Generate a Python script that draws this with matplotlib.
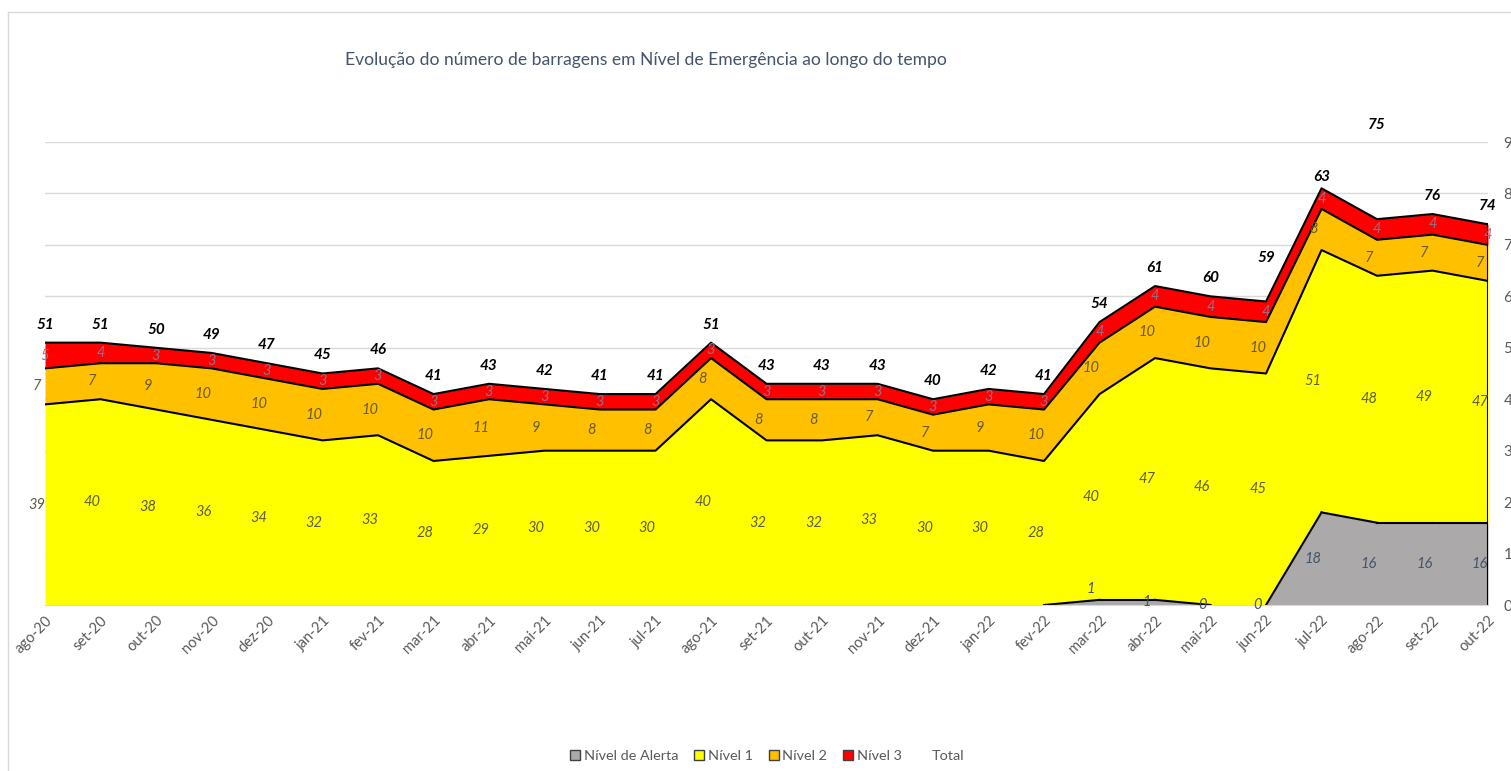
import matplotlib.pyplot as plt
import numpy as np
from matplotlib.lines import Line2D
from matplotlib.patches import Patch

# dados
meses = ["ago-20", "set-20", "out-20", "nov-20", "dez-20", "jan-21", "fev-21",
         "mar-21", "abr-21", "mai-21", "jun-21", "jul-21", "ago-21", "set-21",
         "out-21", "nov-21", "dez-21", "jan-22", "fev-22", "mar-22", "abr-22",
         "mai-22", "jun-22", "jul-22", "ago-22", "set-22", "out-22"]
alerta = [None] * 18 + [0, 1, 1, 0, 0, 18, 16, 16, 16]
nivel1 = [39, 40, 38, 36, 34, 32, 33, 28, 29, 30, 30, 30, 40, 32, 32, 33, 30, 30,
          28, 40, 47, 46, 45, 51, 48, 49, 47]
nivel2 = [7, 7, 9, 10, 10, 10, 10, 10, 11, 9, 8, 8, 8, 8, 8, 7, 7, 9,
          10, 10, 10, 10, 10, 8, 7, 7, 7]
nivel3 = [5, 4, 3, 3, 3, 3, 3, 3, 3, 3, 3, 3, 3, 3, 3, 3, 3, 3,
          3, 4, 4, 4, 4, 4, 4, 4, 4]
total = [51, 51, 50, 49, 47, 45, 46, 41, 43, 42, 41, 41, 51, 43, 43, 43, 40, 42,
         41, 54, 61, 60, 59, 63, 75, 76, 74]

titulo = "Evolução do número de barragens em Nível de Emergência ao longo do tempo"

plt.rcParams["font.family"] = ["Lato", "DejaVu Sans"]

cinza = "#ABA9A9"
amarelo = "#FFFF00"
laranja = "#FFC000"
vermelho = "#FF0000"
texto = "#595959"

x = np.arange(len(meses))
a = np.array([np.nan if v is None else v for v in alerta], dtype=float)
a0 = np.nan_to_num(a)
c1 = a0 + np.array(nivel1)
c2 = c1 + np.array(nivel2)
c3 = c2 + np.array(nivel3)

fig = plt.figure(figsize=(15.11, 7.71), dpi=100)
ax = fig.add_axes([0.0298, 0.2153, 0.9550, 0.6005])

ax.fill_between(x, 0, a0, color=cinza, lw=0)
ax.fill_between(x, a0, c1, color=amarelo, lw=0)
ax.fill_between(x, c1, c2, color=laranja, lw=0)
ax.fill_between(x, c2, c3, color=vermelho, lw=0)

# contornos
for i in range(len(x) - 1):
    if np.isnan(a[i]) or (a[i] == 0 and a[i + 1] == 0):
        continue
    ax.plot(x[i:i + 2], a[i:i + 2], color="black", lw=1.5)
for c in (c1, c2, c3):
    ax.plot(x, c, color="black", lw=1.5)
ax.plot([x[-1], x[-1]], [0, c3[-1]], color="black", lw=1.5)

# rótulos das séries
lbl = dict(ha="center", va="center", style="italic", fontsize=10.5,
           textcoords="offset points")
for i in x:
    if i >= 19:
        dy = 10 if alerta[i] == 1 and i == 19 else 0
        ax.annotate(str(alerta[i]), (x[i], a0[i] / 2), xytext=(-6, dy),
                    color="#44546A", **lbl)
    ax.annotate(str(nivel1[i]), (x[i], (a0[i] + c1[i]) / 2), xytext=(-6, 0),
                color="#5E5E3A", **lbl)
    ax.annotate(str(nivel2[i]), (x[i], (c1[i] + c2[i]) / 2), xytext=(-6, 0),
                color="#6B5A2E", **lbl)
    ax.annotate(str(nivel3[i]), (x[i], (c2[i] + c3[i]) / 2), xytext=(0, 0),
                color="#94708E", **lbl)

# rótulos do total
desloc = {22: 31, 23: 8, 24: 68}
for i in x:
    ax.annotate(str(total[i]), (x[i], c3[i]), xytext=(0, desloc.get(i, 13)),
                textcoords="offset points", ha="center", va="center",
                style="italic", weight="bold", fontsize=11, color="black")

ax.set_xlim(x[0], x[-1])
ax.set_ylim(0, 90)
ax.set_yticks(range(0, 100, 10))
ax.yaxis.tick_right()
ax.yaxis.grid(True, color="#D9D9D9", lw=1)
ax.set_axisbelow(True)
ax.set_xticks(x)
ax.set_xticklabels(meses, rotation=45, ha="right", rotation_mode="anchor")
ax.tick_params(axis="y", length=0, pad=11, labelsize=11, labelcolor=texto)
ax.tick_params(axis="x", length=0, pad=6, labelsize=10.5, labelcolor=texto)
for s in ("top", "left", "right"):
    ax.spines[s].set_visible(False)
ax.spines["bottom"].set_color("#D9D9D9")

fig.text(0.4276, 0.922, titulo, ha="center", va="center", fontsize=12.6,
         color="#44546A")

handles = [Patch(facecolor=cinza, edgecolor="#404040"),
           Patch(facecolor=amarelo, edgecolor="#404040"),
           Patch(facecolor=laranja, edgecolor="#404040"),
           Patch(facecolor=vermelho, edgecolor="#404040"),
           Line2D([], [], lw=0)]
fig.legend(handles, ["Nível de Alerta", "Nível 1", "Nível 2", "Nível 3", "Total"],
           loc="center", bbox_to_anchor=(0.5076, 0.0195), ncol=5, frameon=False,
           fontsize=10.4, labelcolor=texto, handlelength=0.7, handleheight=0.7,
           handletextpad=0.25, columnspacing=1.1)

# moldura
fig.add_artist(Line2D([8 / 1511, 1.0], [1 - 12 / 771] * 2, color="#D9D9D9", lw=1))
fig.add_artist(Line2D([8 / 1511] * 2, [0, 1 - 12 / 771], color="#D9D9D9", lw=1))

fig.savefig("out.png", dpi=100)
